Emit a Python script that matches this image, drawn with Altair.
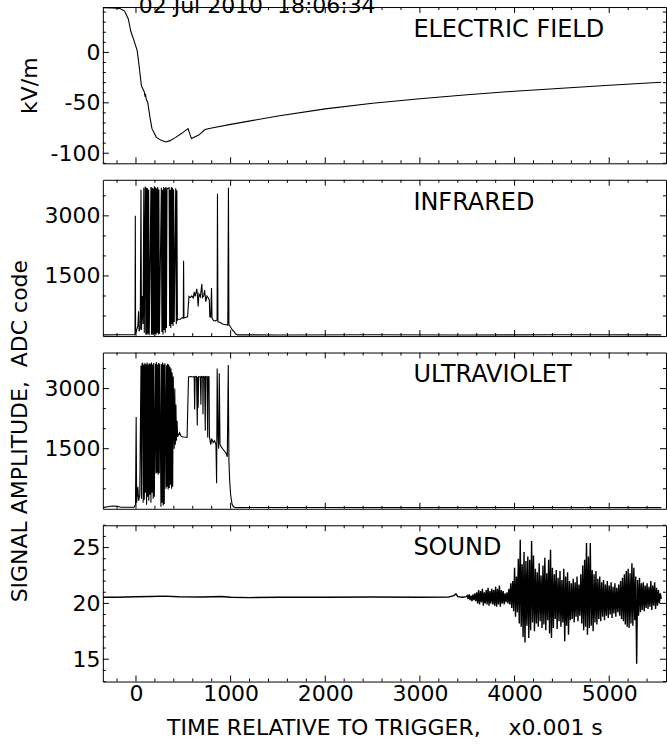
import altair as alt
import pandas as pd

FONT = "DejaVu Sans"
W = 564
H = 156.5
X_DOMAIN = [-350, 5600]

# ---------------- data ----------------
ef_t = [-350, -250, -170, -120, -80, -55, -25, 13, 35, 57,
        89, 95, 100, 110, 124, 147, 169, 214, 260, 317,
        360, 416, 480, 550, 586, 620, 663, 730, 800, 1000,
        1500, 2000, 2500, 3000, 3500, 4000, 4500, 5000, 5550]
ef_v = [44.4, 44.2, 43.5, 41, 33, 21, 13, 1.7, -15, -33,
        -39.5, -44, -41, -47, -49.4, -64, -75.6, -84, -87, -88.8,
        -87.5, -84.5, -80.5, -75.6, -85.5, -84, -82, -76.5, -75, -71.4,
        -63, -56, -50.5, -46, -42, -38.5, -35.5, -32.5, -29.6]

ir_t = [-350, -150, -20, -10, -7, -4, 10, 20, 28, 33, 45, 53, 58, 68, 75, 83, 88,
        98, 104, 110, 116, 122, 128, 134, 140, 158, 164, 170, 176, 182, 188, 194, 200,
        206, 212, 218, 224, 230, 236, 242, 248, 268, 274, 280, 286, 292, 298, 304, 310,
        316, 322, 328, 350, 356, 362, 368, 374, 380, 386, 392, 398, 404, 420, 426, 432,
        438, 444,
        470, 490, 500, 503, 507, 530, 545, 560, 575, 590, 605, 615, 625, 643, 650,
        657, 665, 680, 696, 702, 715, 725, 738, 750, 765, 775, 780, 790, 798, 804, 819,
        840, 857, 861, 866, 879, 895, 914, 935, 955, 970, 977, 982, 1000, 1020, 1036,
        1055, 1071, 1500, 2500, 3500, 4500, 5550]
ir_v = [30, 32, 35, 40, 3000, 60, 180, 250, 620, 120, 200, 3650, 150, 1000, 300, 3700, 80,
        3730, 40, 3700, 30, 3690, 60, 3650, 20, 3720, 30, 3700, 40, 3680, 20, 3740, 50,
        3710, 30, 3690, 80, 3720, 40, 3660, 60, 3700, 100, 3650, 40, 3720, 150, 3690, 80,
        3720, 200, 3680, 3700, 250, 3650, 200, 3720, 300, 3700, 250, 3660, 350, 3690, 300, 3640,
        400, 420,
        420, 460, 450, 1880, 450, 470, 480, 990, 960, 1000, 950, 1100, 990, 1180, 1000,
        740, 1050, 980, 1300, 960, 1000, 1150, 860, 1000, 950, 900, 480, 470, 1200, 450, 390,
        380, 400, 3550, 350, 350, 330, 300, 290, 280, 270, 3700, 290, 220, 150, 110,
        50, 30, 28, 32, 28, 32, 30]

uv_t = [-350, -300, -250, -200, -160, -20, -5, 2, 7, 20, 28, 40,
        53, 58, 64, 70, 76, 82, 88, 94, 100, 106, 112, 118, 123, 129, 135, 141, 147, 153,
        158, 164, 170, 176, 182, 188, 194, 206, 211, 216, 222, 228, 234, 240, 246, 252,
        264, 270, 276, 282, 288, 294, 299, 306, 316, 322, 328, 334, 340, 346, 352, 358,
        364, 370, 376, 382, 388, 394, 404, 410, 416, 422, 428, 434, 440, 446,
        460, 475, 490, 510, 540,
        555, 580, 600, 615, 620, 625, 640, 648, 652, 657, 662, 680, 686, 690, 705, 708,
        712, 725, 732, 736, 750, 758, 762, 772, 776, 790, 800, 815, 830, 845, 852, 858,
        866, 874, 880, 888, 900, 915, 930, 950, 965, 975, 982, 990, 1000, 1015, 1030,
        1050, 2000, 3000, 4000, 5550]
uv_v = [30, 50, 70, 65, 40, 40, 100, 2290, 150, 550, 200, 350,
        3570, 250, 3620, 3630, 150, 3600, 228, 3640, 400, 3610, 100, 3650, 300, 3600, 200, 3630, 350, 3620,
        150, 3650, 400, 3600, 250, 3640, 300, 3620, 880, 3660, 900, 3600, 850, 3640, 890, 3620,
        50, 3610, 150, 3650, 80, 3600, 120, 3630, 500, 3580, 550, 3620, 480, 3600, 520, 3550,
        600, 3500, 500, 3400, 550, 3300, 1500, 3000, 1600, 2600, 1700, 2200, 1800, 1830,
        1900, 1820, 1800, 1790, 1780,
        3290, 3300, 3290, 3300, 2480, 3290, 3300, 2080, 3290, 2520, 3300, 3290, 2600, 3300, 3290, 2360,
        3300, 3290, 1950, 3300, 3290, 1780, 3300, 3290, 1800, 1600, 1750, 1650, 1700, 1600, 640, 3500,
        1800, 1500, 3380, 1600, 1550, 1500, 1450, 1400, 1300, 3590, 1200, 700, 350, 120, 50,
        30, 32, 30, 31, 30]

snd_base_t = [-350, -200, 0, 150, 300, 450, 700, 900, 1000, 1200, 1500, 2000,
              2500, 3000, 3300, 3360, 3380, 3400, 3450, 3490]
snd_base_v = [20.55, 20.55, 20.6, 20.62, 20.65, 20.6, 20.58, 20.62, 20.55, 20.52, 20.55, 20.55,
              20.57, 20.55, 20.56, 20.7, 20.85, 20.6, 20.55, 20.6]
# sampled every 10 ms from 3500 to 5550
snd_noise_v = [
    20.7, 20.4, 20.8, 20.3, 20.7, 20.2, 20.8, 20.3, 20.9, 20.2,
    21.0, 20.0, 21.2, 19.9, 21.1, 20.1, 21.3, 19.8, 21.0, 20.0,
    21.2, 19.9, 21.4, 19.8, 21.1, 20.0, 21.3, 19.9, 21.2, 19.8,
    21.5, 19.7, 21.3, 19.9, 21.6, 19.7, 21.2, 20.0, 21.1, 19.9,
    20.9, 20.1, 21.0, 20.0, 21.3, 19.9, 21.8, 19.6, 22.0, 19.3,
    23.2, 18.8, 22.4, 19.2, 24.0, 18.2, 25.7, 17.9, 23.5, 17.0,
    24.6, 16.5, 23.8, 18.0, 24.2, 16.9, 23.9, 17.6, 25.6, 18.3,
    24.3, 17.5, 23.1, 18.2, 22.8, 17.9, 23.6, 18.4, 22.5, 17.8,
    23.4, 18.1, 24.1, 17.6, 22.7, 18.5, 23.9, 17.3, 24.8, 16.9,
    23.2, 17.8, 22.6, 18.6, 23.0, 17.7, 22.3, 18.4, 22.9, 17.9,
    22.1, 18.3, 23.1, 16.6, 22.4, 18.0, 22.8, 17.2, 22.0, 18.5,
    21.8, 18.6, 22.2, 18.3, 21.9, 18.8, 22.4, 18.4, 21.7, 18.9,
    22.6, 18.2, 23.4, 17.6, 23.9, 17.9, 25.4, 17.2, 24.2, 17.8,
    25.4, 18.0, 23.0, 17.5, 22.6, 18.3, 22.9, 18.1, 22.2, 18.6,
    22.4, 18.4, 21.9, 18.8, 22.1, 18.5, 21.7, 18.9, 22.0, 18.7,
    21.6, 19.0, 21.9, 18.7, 21.5, 19.1, 21.8, 18.8, 21.4, 19.2,
    21.7, 18.9, 22.0, 18.6, 22.3, 18.4, 22.6, 18.1, 22.9, 17.9,
    23.1, 17.8, 22.7, 18.2, 23.6, 18.0, 23.2, 18.5, 22.4, 14.6,
    22.1, 18.9, 22.3, 19.2, 21.8, 19.4, 21.9, 19.3, 21.6, 19.6,
    21.8, 19.5, 21.5, 19.7, 22.0, 19.4, 21.6, 19.8, 21.9, 19.5,
    21.4, 19.8, 21.2, 20.0, 20.9, 20.4,
]
snd_noise_t = list(range(3500, 5560, 10))

x_major = [0, 1000, 2000, 3000, 4000, 5000]
x_minor = [-200, 200, 400, 600, 800, 1200, 1400, 1600, 1800, 2200, 2400, 2600, 2800,
           3200, 3400, 3600, 3800, 4200, 4400, 4600, 4800, 5200, 5400]

ef_major = [-100, -50, 0]
ef_minor = [-110, -90, -80, -70, -60, -40, -30, -20, -10, 10, 20, 30, 40]
adc_major = [1500, 3000]
adc_minor = [500, 1000, 2000, 2500, 3500]
snd_major = [15, 20, 25]
snd_minor = [13, 14, 16, 17, 18, 19, 21, 22, 23, 24, 26, 27]

panel_labels = ["ELECTRIC FIELD", "INFRARED", "ULTRAVIOLET", "SOUND"]
date_text = ["02 Jul 2010\u00a0 18:06:34"]
x_title = "TIME RELATIVE TO TRIGGER,\u00a0\u00a0\u00a0 x0.001 s"
y_title_top = "kV/m"
y_title_main = "SIGNAL AMPLITUDE,\u00a0 ADC code"

# ---------------- chart ----------------
TICK_FS = 22
LABEL_FS = 24
TITLE_FS = 22


def y_axis(values, title=None, title_x=None):
    kw = dict(values=values, ticks=False, tickSize=0, domain=False, grid=False,
              labelFont=FONT, labelFontSize=TICK_FS, labelColor="black",
              labelPadding=3, labelOverlap=False, labelFlush=False,
              labelExpr="'' + datum.value")
    if title is not None:
        kw.update(title=title, titleFont=FONT, titleFontSize=TITLE_FS,
                  titleFontWeight="normal", titleColor="black", titleAngle=270,
                  titleBaseline="middle", titleAlign="center",
                  titleX=title_x, titleY=H / 2)
    else:
        kw.update(title=None)
    return alt.Axis(**kw)


def x_axis_bottom():
    return alt.Axis(values=x_major, ticks=False, tickSize=0, domain=False, grid=False,
                    labelFont=FONT, labelFontSize=TICK_FS, labelColor="black",
                    labelPadding=2, labelOverlap=False, labelFlush=False,
                    labelExpr="'' + datum.value",
                    title=x_title, titleFont=FONT, titleFontSize=TITLE_FS,
                    titleFontWeight="normal", titleColor="black",
                    titleBaseline="alphabetic", titleY=53, titleX=W / 2)


def panel(t, v, y_domain, y_major, y_minor, label, yax, xax=None, extra=None, sw=1.1):
    xs = alt.Scale(domain=X_DOMAIN, nice=False, zero=False)
    ys = alt.Scale(domain=y_domain, nice=False, zero=False)
    df = pd.DataFrame({"t": t, "v": v})
    layers = [
        alt.Chart(df).mark_line(color="black", strokeWidth=sw, clip=True).encode(
            x=alt.X("t:Q", scale=xs, axis=xax),
            y=alt.Y("v:Q", scale=ys, axis=yax),
        )
    ]
    rule = dict(color="black", strokeWidth=1)
    for vals, L in ((x_major, 6), (x_minor, 3)):
        d = pd.DataFrame({"t": vals})
        layers.append(alt.Chart(d).mark_rule(**rule).encode(
            x=alt.X("t:Q", scale=xs, axis=xax), y=alt.value(0), y2=alt.value(L)))
        layers.append(alt.Chart(d).mark_rule(**rule).encode(
            x=alt.X("t:Q", scale=xs, axis=xax), y=alt.value(H - L), y2=alt.value(H)))
    for vals, L in ((y_major, 6), (y_minor, 3)):
        d = pd.DataFrame({"v": vals})
        layers.append(alt.Chart(d).mark_rule(**rule).encode(
            y=alt.Y("v:Q", scale=ys, axis=yax), x=alt.value(0), x2=alt.value(L)))
        layers.append(alt.Chart(d).mark_rule(**rule).encode(
            y=alt.Y("v:Q", scale=ys, axis=yax), x=alt.value(W - L), x2=alt.value(W)))
    layers.append(
        alt.Chart(pd.DataFrame({"label": [label]})).mark_text(
            font=FONT, fontSize=LABEL_FS, color="black", align="left",
            baseline="alphabetic").encode(
            text="label:N", x=alt.value(311), y=alt.value(30))
    )
    if extra is not None:
        layers.append(extra)
    return alt.layer(*layers).properties(width=W, height=H)


date_layer = alt.Chart(pd.DataFrame({"d": date_text})).mark_text(
    font=FONT, fontSize=22, color="black", align="left", baseline="alphabetic"
).encode(text="d:N", x=alt.value(36), y=alt.value(6))

p1 = panel(ef_t, ef_v, [-110, 45], ef_major, ef_minor, panel_labels[0],
           y_axis(ef_major, y_title_top, -73), extra=date_layer)
p2 = panel(ir_t, ir_v, [0, 3900], adc_major, adc_minor, panel_labels[1],
           y_axis(adc_major))
p3 = panel(uv_t, uv_v, [0, 3900], adc_major, adc_minor, panel_labels[2],
           y_axis(adc_major, y_title_main, -83))
p4 = panel(snd_base_t + snd_noise_t, snd_base_v + snd_noise_v, [13, 27], snd_major, snd_minor,
           panel_labels[3], y_axis(snd_major), xax=x_axis_bottom(), sw=1.4)

chart = alt.vconcat(p1, p2, p3, p4, spacing=16, bounds="flush").properties(
    padding={"left": 8, "top": -6.5, "right": 0, "bottom": 4}
).configure(font=FONT).configure_view(stroke="black", strokeWidth=1)

chart.save("out.html", embed_options={"renderer": "svg", "actions": False})
